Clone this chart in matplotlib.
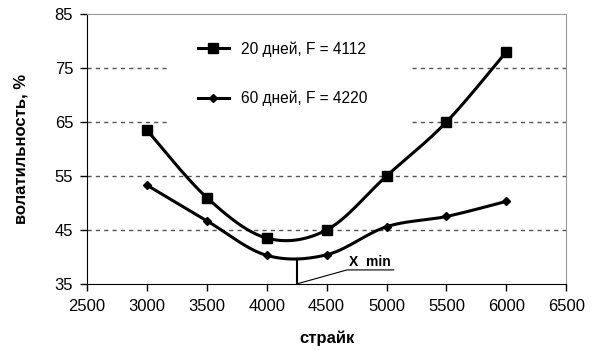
import numpy as np
import matplotlib
matplotlib.use("Agg")
import matplotlib.pyplot as plt
from matplotlib.patches import Rectangle

strikes = [3000, 3500, 4000, 4500, 5000, 5500, 6000]
vol_20 = [63.5, 51.0, 43.5, 45.0, 55.0, 65.0, 78.0]
vol_60 = [53.3, 46.7, 40.3, 40.4, 45.6, 47.5, 50.3]
label_20 = "20 дней, F = 4112"
label_60 = "60 дней, F = 4220"
x_min = 4250
x_ticks = [2500, 3000, 3500, 4000, 4500, 5000, 5500, 6000, 6500]
y_ticks = [35, 45, 55, 65, 75, 85]

plt.rcParams['font.family'] = ['Liberation Sans', 'DejaVu Sans']


def smooth(xs, ys, n=40):
    xs = np.asarray(xs, float)
    ys = np.asarray(ys, float)
    P = np.column_stack([xs, ys])
    P = np.vstack([P[0], P, P[-1]])
    out = []
    t = np.linspace(0, 1, n)[:, None]
    for i in range(1, len(P) - 2):
        p0, p1, p2, p3 = P[i - 1], P[i], P[i + 1], P[i + 2]
        c1 = p1 + (p2 - p0) / 6
        c2 = p2 - (p3 - p1) / 6
        seg = ((1 - t) ** 3) * p1 + 3 * ((1 - t) ** 2) * t * c1 + 3 * (1 - t) * t ** 2 * c2 + t ** 3 * p2
        out.append(seg if i == 1 else seg[1:])
    out = np.vstack(out)
    return out[:, 0], out[:, 1]


fig = plt.figure(figsize=(5.96, 3.51), dpi=100)
ax = fig.add_axes([0.146, 0.191, 0.804, 0.769])

for yv in y_ticks[1:-1]:
    ax.axhline(yv, color='#555555', lw=1.0, ls=(0, (3, 3)), zorder=1)

# white box behind legend
ax.add_patch(Rectangle((0.169, 0.552), 0.505, 0.407, transform=ax.transAxes,
                       facecolor='white', edgecolor='none', zorder=2))

sx, sy = smooth(strikes, vol_20)
ax.plot(sx, sy, color='black', lw=2.2, zorder=3)
ax.plot(strikes, vol_20, ls='none', marker='s', ms=7, color='black', zorder=4)
sx2, sy2 = smooth(strikes, vol_60)
ax.plot(sx2, sy2, color='black', lw=2.2, zorder=3)
ax.plot(strikes, vol_60, ls='none', marker='D', ms=4.5, color='black', zorder=4)

h1, = ax.plot([], [], color='black', lw=2.2, marker='s', ms=7)
h2, = ax.plot([], [], color='black', lw=2.2, marker='D', ms=4.5)
leg = ax.legend([h1, h2], [label_20, label_60], loc='upper left',
                bbox_to_anchor=(0.232, 0.90), frameon=False, borderpad=0,
                borderaxespad=0, fontsize=11.2, handlelength=1.95,
                handletextpad=0.8, labelspacing=2.2)
leg.set_zorder(5)

# x min marker
ymin_line = np.interp(x_min, sx2, sy2)
ax.plot([x_min, x_min], [35, ymin_line], color='black', lw=1.5, zorder=3)
ax.plot([x_min, 4670, 5060], [35, 37.6, 37.6], color='black', lw=0.8, zorder=3)
ax.text(4865, 37.8, "X  min", ha='center', va='bottom', fontsize=10, fontweight='bold')

ax.set_xlim(2500, 6500)
ax.set_ylim(35, 85)
ax.set_xticks(x_ticks)
ax.set_yticks(y_ticks)
ax.tick_params(labelsize=12, direction='out', length=5, width=1)
ax.tick_params(axis='x', pad=6)
ax.tick_params(axis='y', pad=5)
ax.spines['left'].set_color('black')
ax.spines['bottom'].set_color('black')
ax.spines['top'].set_color('#999999')
ax.spines['right'].set_color('#999999')
ax.set_xlabel("страйк", fontsize=12, fontweight='bold', labelpad=12)
ax.set_ylabel("волатильность, %", fontsize=12, fontweight='bold', labelpad=19)

fig.savefig("out.png", dpi=100)
